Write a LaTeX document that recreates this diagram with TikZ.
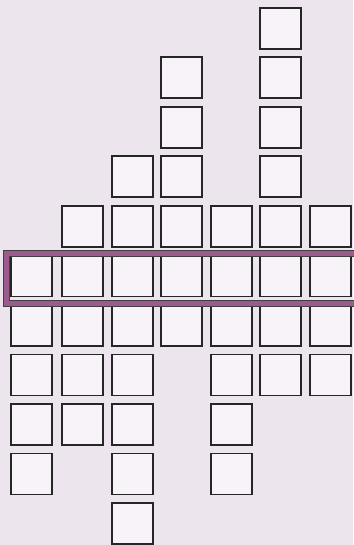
\documentclass[tikz,border=0pt]{standalone}
\definecolor{bgcol}{HTML}{ECE5EE}
\definecolor{sqcol}{HTML}{F7F3F8}
\definecolor{bandcol}{HTML}{9B5B8C}
\begin{document}
\begin{tikzpicture}[x=1pt,y=-1pt,
  cell/.style={draw=black!85, line width=1.8pt, fill=sqcol, minimum size=41pt, inner sep=0pt, anchor=north west},
  bandedge/.style={draw=black!75, line width=7.5pt},
  bandfill/.style={draw=bandcol, line width=5pt}]
\fill[bgcol] (0,0) rectangle (353,545);
\useasboundingbox (0,0) rectangle (353,545);
\foreach \c/\x/\a/\b in {1/10/6/10, 2/61/5/9, 3/111/4/11, 4/160/2/7, 5/210/5/10, 6/259/1/8, 7/309/5/8}{
  \foreach \r in {\a,...,\b}{
    \pgfmathsetmacro\yy{7+49.5*(\r-1)}
    \node[cell] (s\c-\r) at (\x,\yy) {};
  }
}
\draw[bandedge] (6.5,253.5) rectangle (362,303.5);
\draw[bandfill] (6.5,253.5) rectangle (362,303.5);
\end{tikzpicture}
\end{document}
